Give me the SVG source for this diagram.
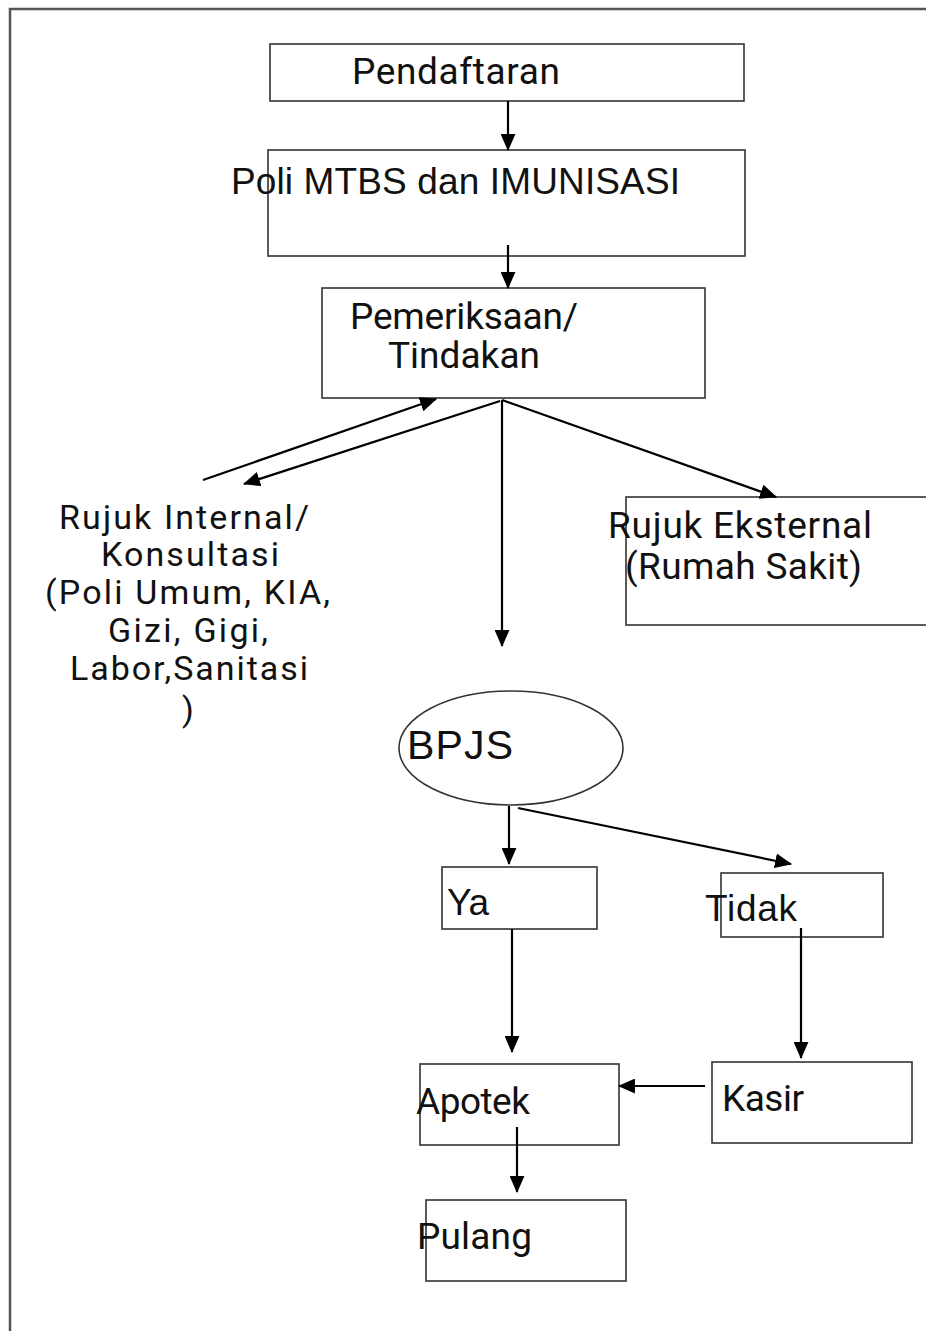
<svg xmlns="http://www.w3.org/2000/svg" width="926" height="1331" viewBox="0 0 926 1331">
<style>
.box{fill:#fff;stroke:#333;stroke-width:1.6}
.frame{fill:none;stroke:#555;stroke-width:2.5}
.ln{fill:none;stroke:#000;stroke-width:2.2;marker-end:url(#ah)}
.r{font-family:Roboto,"Liberation Sans",sans-serif;font-size:37px;fill:#111}
.a{font-family:"Liberation Sans",Arial,sans-serif;font-size:37px;fill:#111}
.ri{font-size:34px}
</style>
<defs>
<marker id="ah" viewBox="0 0 16 14" refX="15" refY="7" markerWidth="17" markerHeight="15" markerUnits="userSpaceOnUse" orient="auto">
<path d="M0,0 L16,7 L0,14 z" fill="#000"/>
</marker>
</defs>
<rect width="926" height="1331" fill="#fff"/>
<path class="frame" d="M10,1331 V9 H926"/>

<g id="pendaftaran"><rect class="box" x="270" y="44" width="474" height="57"/><text class="r" x="352" y="84" textLength="208">Pendaftaran</text></g>
<g id="poli"><rect class="box" x="268" y="150" width="477" height="106"/><text class="a" x="231" y="194" textLength="449">Poli MTBS dan IMUNISASI</text></g>
<g id="pemeriksaan"><rect class="box" x="322" y="288" width="383" height="110"/><text class="r" x="350" y="329" textLength="228">Pemeriksaan/</text><text class="r" x="388" y="368" textLength="152">Tindakan</text></g>
<g id="rujuk-internal"><text class="r ri"><tspan x="59" y="529" textLength="250">Rujuk Internal/</tspan><tspan x="101" y="566" textLength="178">Konsultasi</tspan><tspan x="45" y="604" textLength="285">(Poli Umum, KIA,</tspan><tspan x="108" y="642" textLength="160">Gizi, Gigi,</tspan><tspan x="70" y="680" textLength="238">Labor,Sanitasi</tspan><tspan x="182" y="721">)</tspan></text></g>
<g id="rujuk-eksternal"><rect class="box" x="626" y="497" width="310" height="128"/><text class="r" x="608" y="538" textLength="264">Rujuk Eksternal</text><text class="r" x="625" y="579" textLength="237">(Rumah Sakit)</text></g>
<g id="bpjs"><ellipse class="box" cx="511" cy="748" rx="112" ry="57"/><text class="a" x="407" y="759" style="font-size:41px" textLength="106">BPJS</text></g>
<g id="ya"><rect class="box" x="442" y="867" width="155" height="62"/><text class="a" x="447" y="915" textLength="42">Ya</text></g>
<g id="tidak"><rect class="box" x="721" y="873" width="162" height="64"/><text class="a" x="705" y="921" textLength="92">Tidak</text></g>
<g id="apotek"><rect class="box" x="420" y="1064" width="199" height="81"/><text class="r" x="416" y="1114" textLength="114">Apotek</text></g>
<g id="kasir"><rect class="box" x="712" y="1062" width="200" height="81"/><text class="r" x="722" y="1111" textLength="82">Kasir</text></g>
<g id="pulang"><rect class="box" x="426" y="1200" width="200" height="81"/><text class="r" x="417" y="1249" textLength="115">Pulang</text></g>

<g id="connectors">
<line class="ln" x1="508" y1="101" x2="508" y2="150"/>
<line class="ln" x1="508" y1="245" x2="508" y2="288"/>
<line class="ln" x1="203" y1="480" x2="436" y2="399"/>
<line class="ln" x1="500" y1="401" x2="244" y2="484"/>
<line class="ln" x1="502" y1="400" x2="502" y2="646"/>
<line class="ln" x1="502" y1="400" x2="776" y2="497"/>
<line class="ln" x1="509" y1="806" x2="509" y2="864"/>
<line class="ln" x1="518" y1="808" x2="791" y2="864"/>
<line class="ln" x1="512" y1="929" x2="512" y2="1052"/>
<line class="ln" x1="801" y1="928" x2="801" y2="1058"/>
<line class="ln" x1="705" y1="1086" x2="619" y2="1086"/>
<line class="ln" x1="517" y1="1127" x2="517" y2="1192"/>
</g>
</svg>
